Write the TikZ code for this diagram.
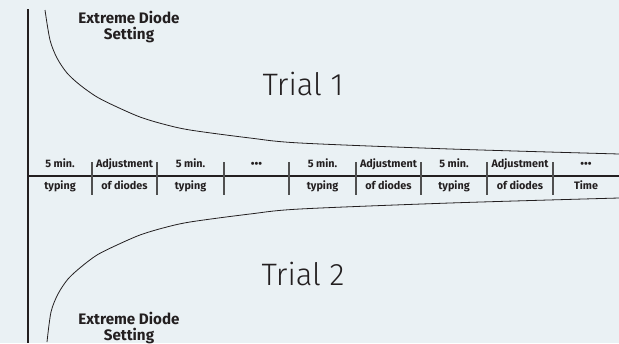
\documentclass[tikz,border=0pt]{standalone}
\usepackage{fontspec}
\setmainfont{Fira Sans}
\newfontfamily\trialfont{Fira Sans Light}
\definecolor{bgc}{HTML}{EAF1F4}
\definecolor{ink}{HTML}{231F20}
\definecolor{divc}{HTML}{505050}
\begin{document}
\begin{tikzpicture}[x=1pt,y=-1pt,
  lbl/.style={font=\bfseries\fontsize{10.8}{12}\selectfont, text=ink, inner sep=0pt, anchor=base},
  title/.style={font=\bfseries\fontsize{15.2}{15.5}\selectfont, align=center, text=ink, inner sep=0pt, anchor=north},
  trial/.style={font=\trialfont\fontsize{31}{36}\selectfont, text=ink, inner sep=0pt, anchor=base},
  axis/.style={draw=ink, line width=1.3pt},
  curve/.style={draw=ink, line width=0.8pt},
  divider/.style={draw=divc, line width=1.3pt}]
\fill[bgc] (0,0) rectangle (619,343);
\useasboundingbox (0,0) rectangle (619,343);
% axes
\coordinate (vtop) at (28,9);
\coordinate (vbot) at (28,343);
\coordinate (hl) at (28,176);
\coordinate (hr) at (619,176);
\draw[axis] (vtop) -- (vbot);
\draw[axis] (hl) -- (hr);
% curves
\draw[curve] plot[smooth] coordinates {(45,10) (50,40) (57,58) (67,73) (80,85) (97,97) (117,107) (140,117) (163,124) (190,130) (250,138) (300,143) (450,149) (619,154)};
\draw[curve] plot[smooth] coordinates {(47,342) (51,312) (58,294) (68,279) (81,267) (97,255) (117,245) (140,235) (163,228) (190,222) (250,214) (300,209) (450,203) (619,198)};
% dividers
\foreach \x in {92,157,224,289,356,421,487,553}
  \draw[divider] (\x,162) -- (\x,195);
% labels
\foreach \x/\a/\b [count=\i] in {60/5 min./typing, 124.5/Adjustment/of diodes, 190.5/5 min./typing, 256.5/{•••}/{}, 322.5/5 min./typing, 388.5/Adjustment/of diodes, 454/5 min./typing, 520/Adjustment/of diodes, 586/{•••}/Time} {
  \node[lbl] (t\i) at (\x,167) {\a};
  \node[lbl] (b\i) at (\x,189) {\b};
}
\node[title] (ext1) at (129,11) {Extreme Diode\\Setting};
\node[title] (ext2) at (129,312) {Extreme Diode\\Setting};
\node[trial] (tr1) at (303,95) {Trial 1};
\node[trial] (tr2) at (303,285) {Trial 2};
\end{tikzpicture}
\end{document}
